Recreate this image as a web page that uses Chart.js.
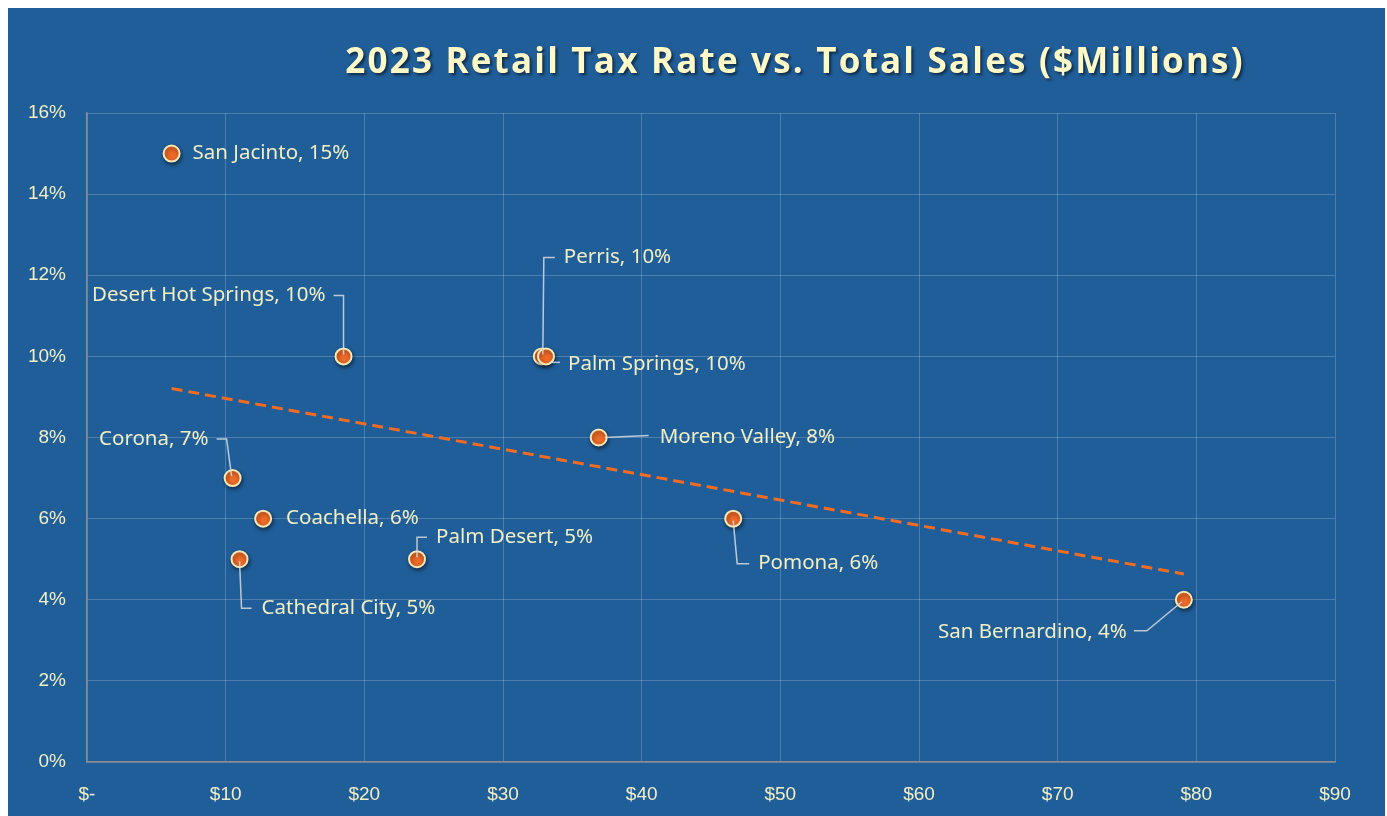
<!DOCTYPE html>
<html>
<head>
<meta charset="utf-8">
<script src="https://cdn.jsdelivr.net/npm/chart.js@4.4.1/dist/chart.umd.min.js"></script>
<style>
    html, body { margin: 0; padding: 0; background: #ffffff; }
    #wrap { position: absolute; left: 8px; top: 8px; width: 1377px; height: 808px; background: #205e99; }
</style>
</head>
<body>
<div id="wrap"><canvas id="mychart"></canvas></div>
<script>
// data
var cities = ['San Jacinto', 'Desert Hot Springs', 'Perris', 'Palm Springs', 'Moreno Valley',
    'Corona', 'Coachella', 'Cathedral City', 'Palm Desert', 'Pomona', 'San Bernardino'];
var totalSales = [6.1, 18.5, 32.8, 33.1, 36.9, 10.5, 12.7, 11.0, 23.8, 46.6, 79.1]; // $ millions
var taxRate = [15, 10, 10, 10, 8, 7, 6, 5, 5, 6, 4]; // percent
var xTicks = [0, 10, 20, 30, 40, 50, 60, 70, 80, 90];
var yTicks = [0, 2, 4, 6, 8, 10, 12, 14, 16];

// label placement (pixel offsets from the point), kept apart from the data
var labelLayout = [
    { dx: 21, dy: 0, align: 'left' },
    { dx: -18, dy: -61, align: 'right', leader: [[-10, -61], [0, -61], [0, -2]] },
    { dx: 22, dy: -99, align: 'left', leader: [[13, -99], [2, -99], [1, -2]] },
    { dx: 22, dy: 8, align: 'left', leader: [[4, 6], [14, 6]] },
    { dx: 61, dy: 0, align: 'left', leader: [[6, 0], [50, -2]] },
    { dx: -24, dy: -39, align: 'right', leader: [[-16, -39], [-6, -39], [-1, -2]] },
    { dx: 23, dy: 0, align: 'left' },
    { dx: 22, dy: 49, align: 'left', leader: [[0, 2], [2, 49], [12, 49]] },
    { dx: 19, dy: -22, align: 'left', leader: [[0, -2], [0, -22], [10, -22]] },
    { dx: 25, dy: 45, align: 'left', leader: [[0, 2], [4, 45], [16, 45]] },
    { dx: -57, dy: 32, align: 'right', leader: [[-2, 2], [-37, 31], [-50, 31]] }
];

var cream = '#f1eec4';

// linear trendline from the data (least squares)
var n = totalSales.length;
var mx = totalSales.reduce(function (a, b) { return a + b; }, 0) / n;
var my = taxRate.reduce(function (a, b) { return a + b; }, 0) / n;
var sxy = 0, sxx = 0;
for (var i = 0; i < n; i++) {
    sxy += (totalSales[i] - mx) * (taxRate[i] - my);
    sxx += (totalSales[i] - mx) * (totalSales[i] - mx);
}
var slope = sxy / sxx;
var xMin = Math.min.apply(null, totalSales);
var xMax = Math.max.apply(null, totalSales);
var trend = [
    { x: xMin, y: my + slope * (xMin - mx) },
    { x: xMax, y: my + slope * (xMax - mx) }
];

var points = totalSales.map(function (v, i) { return { x: v, y: taxRate[i] }; });

var shadowPlugin = {
    id: 'pointShadow',
    beforeDatasetDraw: function (chart, args) {
        if (args.index !== 0) return;
        var ctx = chart.ctx;
        ctx.save();
        ctx.shadowColor = 'rgba(0,0,0,0.5)';
        ctx.shadowBlur = 4;
        ctx.shadowOffsetX = 1;
        ctx.shadowOffsetY = 2;
    },
    afterDatasetDraw: function (chart, args) {
        if (args.index !== 0) return;
        chart.ctx.restore();
    }
};

var labelPlugin = {
    id: 'cityLabels',
    afterDatasetsDraw: function (chart) {
        var ctx = chart.ctx;
        var meta = chart.getDatasetMeta(0);
        ctx.save();
        ctx.strokeStyle = 'rgba(215,220,225,0.85)';
        ctx.lineWidth = 1.5;
        ctx.font = '20.5px "Noto Sans"';
        ctx.fillStyle = cream;
        ctx.textBaseline = 'middle';
        meta.data.forEach(function (pt, i) {
            var L = labelLayout[i];
            if (L.leader) {
                ctx.beginPath();
                L.leader.forEach(function (p, k) {
                    if (k === 0) ctx.moveTo(pt.x + p[0], pt.y + p[1]);
                    else ctx.lineTo(pt.x + p[0], pt.y + p[1]);
                });
                ctx.stroke();
            }
            ctx.textAlign = L.align;
            ctx.fillText(cities[i] + ', ' + taxRate[i] + '%', pt.x + L.dx, pt.y + L.dy);
        });
        ctx.restore();
    }
};

var titlePlugin = {
    id: 'bigTitle',
    afterDraw: function (chart) {
        var ctx = chart.ctx;
        ctx.save();
        ctx.font = 'bold 35px "Open Sans"';
        ctx.letterSpacing = '2.2px';
        ctx.textAlign = 'center';
        ctx.textBaseline = 'middle';
        ctx.shadowColor = 'rgba(0,0,0,0.55)';
        ctx.shadowBlur = 3;
        ctx.shadowOffsetX = 2;
        ctx.shadowOffsetY = 2;
        ctx.fillStyle = '#fff9c8';
        ctx.fillText('2023 Retail Tax Rate vs. Total Sales ($Millions)', 787, 55);
        ctx.restore();
    }
};

var ctx = document.getElementById('mychart').getContext('2d');
var mychart = new Chart(ctx, {
    type: 'scatter',
    data: {
        datasets: [{
            label: 'Tax rate',
            data: points,
            pointRadius: 8,
            pointHoverRadius: 8,
            pointBackgroundColor: '#ef6a28',
            pointBorderColor: '#f6e9b8',
            pointBorderWidth: 2
        }, {
            label: 'Trend',
            type: 'line',
            data: trend,
            borderColor: '#f26b21',
            borderWidth: 3,
            borderDash: [11, 6],
            pointRadius: 0,
            fill: false
        }]
    },
    options: {
        responsive: true,
        maintainAspectRatio: false,
        animation: false,
        layout: { padding: { top: 105, right: 50, left: 0, bottom: 0 } },
        plugins: {
            legend: { display: false },
            tooltip: { enabled: false },
            title: { display: false }
        },
        scales: {
            x: {
                type: 'linear',
                min: 0,
                max: 90,
                afterFit: function (s) { s.height = 54; },
                afterBuildTicks: function (s) { s.ticks = xTicks.map(function (v) { return { value: v }; }); },
                ticks: {
                    padding: 21,
                    color: cream,
                    font: { family: '"Liberation Sans", Arial', size: 19 },
                    callback: function (v) { return v === 0 ? '$-' : '$' + v; }
                },
                grid: { color: 'rgba(255,255,255,0.2)', lineWidth: 1, drawTicks: false },
                border: { color: '#8c8c8c', width: 1.5 }
            },
            y: {
                min: 0,
                max: 16,
                afterFit: function (s) { s.width = 79; },
                afterBuildTicks: function (s) { s.ticks = yTicks.map(function (v) { return { value: v }; }); },
                ticks: {
                    padding: 21,
                    color: cream,
                    font: { family: '"Liberation Sans", Arial', size: 19 },
                    callback: function (v) { return v + '%'; }
                },
                grid: { color: 'rgba(255,255,255,0.2)', lineWidth: 1, drawTicks: false },
                border: { color: '#8c8c8c', width: 1.5 }
            }
        }
    },
    plugins: [shadowPlugin, labelPlugin, titlePlugin]
});
</script>
</body>
</html>
